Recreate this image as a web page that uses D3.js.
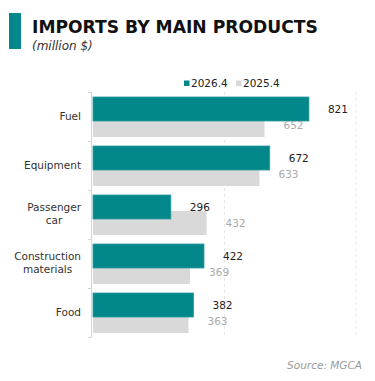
<!DOCTYPE html>
<html>
<head>
<meta charset="utf-8">
<script src="https://cdn.jsdelivr.net/npm/d3@7"></script>
<style>
  html, body { margin: 0; padding: 0; background: #fff; }
  svg { display: block; font-family: "DejaVu Sans", "Noto Sans", sans-serif; }
</style>
</head>
<body>
<svg id="chart" width="375" height="381"></svg>
<script>
// Imports by main products, million $
const categories = ["Fuel", "Equipment", "Passenger car", "Construction materials", "Food"];
const categoryLines = [["Fuel"], ["Equipment"], ["Passenger", "car"], ["Construction", "materials"], ["Food"]];
const values2026 = [821, 672, 296, 422, 382];
const values2025 = [652, 633, 432, 369, 363];
const seriesNames = ["2026.4", "2025.4"];
const gridTicks = [500, 1000];

const teal = "#02878a";
const grey = "#d9d9d9";

const svg = d3.select("#chart");

// Header
svg.append("rect").attr("x", 9).attr("y", 13).attr("width", 12).attr("height", 36).attr("fill", teal);
const title = svg.append("text")
  .attr("x", 32).attr("y", 33)
  .attr("font-size", 17).attr("font-weight", 700).attr("fill", "#111")
  .text("IMPORTS BY MAIN PRODUCTS");
const tw = title.node().getComputedTextLength();
if (tw > 0) title.attr("font-size", Math.min(18, 17 * 286 / tw));
svg.append("text")
  .attr("x", 32).attr("y", 50)
  .attr("font-size", 12).attr("font-style", "italic").attr("fill", "#333")
  .text("(million $)");

// Scales
const x = d3.scaleLinear().domain([0, 1000]).range([93, 356]);
const y = d3.scaleBand().domain(categories).range([92, 337]);

// Dashed grid
svg.append("g").selectAll("line").data(gridTicks).join("line")
  .attr("x1", d => x(d)).attr("x2", d => x(d))
  .attr("y1", 92).attr("y2", 337)
  .attr("stroke", "#e6e6e6").attr("stroke-width", 1)
  .attr("stroke-dasharray", "3,3");

// Left axis line with ticks at band boundaries
const bounds = categories.map(c => y(c)).concat([y(categories[categories.length - 1]) + y.bandwidth()]);
const axis = svg.append("g").attr("stroke", "#d4d4d4").attr("stroke-width", 1);
axis.append("line").attr("x1", 91.5).attr("x2", 91.5).attr("y1", 92).attr("y2", 337);
axis.selectAll("line.tick").data(bounds).join("line").attr("class", "tick")
  .attr("x1", 88).attr("x2", 91.5)
  .attr("y1", d => Math.round(d) + 0.5).attr("y2", d => Math.round(d) + 0.5);

// Bars: previous year sits lower, current year drawn on top
const barH = 24;
svg.append("g").selectAll("rect").data(categories).join("rect")
  .attr("x", x(0)).attr("y", d => y(d) + 21)
  .attr("width", (d, i) => x(values2025[i]) - x(0)).attr("height", barH)
  .attr("fill", grey);
svg.append("g").selectAll("rect").data(categories).join("rect")
  .attr("x", x(0)).attr("y", d => y(d) + 5)
  .attr("width", (d, i) => x(values2026[i]) - x(0)).attr("height", barH)
  .attr("fill", teal).attr("stroke", "#2a9c9c").attr("stroke-width", 0.8);

// Value labels
svg.append("g").selectAll("text").data(categories).join("text")
  .attr("x", (d, i) => x(values2025[i]) + 19).attr("y", d => y(d) + 33.5)
  .attr("dy", "0.35em").attr("font-size", 10.5).attr("fill", "#aaaaaa")
  .text((d, i) => values2025[i]);
svg.append("g").selectAll("text").data(categories).join("text")
  .attr("x", (d, i) => x(values2026[i]) + 19).attr("y", d => y(d) + 17.5)
  .attr("dy", "0.35em").attr("font-size", 10.5).attr("fill", "#222")
  .text((d, i) => values2026[i]);

// Category labels: lines centred on each other, block right-aligned
categories.forEach((c, i) => {
  const lines = categoryLines[i];
  const cy = y(c) + y.bandwidth() / 2 - 0.5;
  const t = svg.append("text").attr("font-size", 10.5).attr("fill", "#333").attr("text-anchor", "middle");
  lines.forEach((ln, k) => {
    t.append("tspan").attr("y", cy + (k - (lines.length - 1) / 2) * 13).attr("dy", "0.35em").text(ln);
  });
  const w = d3.max(t.selectAll("tspan").nodes(), n => n.getComputedTextLength());
  t.selectAll("tspan").attr("x", 81 - w / 2);
});

// Legend
const legend = svg.append("g");
const legendX = [184, 236];
seriesNames.forEach((s, i) => {
  legend.append("rect").attr("x", legendX[i]).attr("y", 80.5).attr("width", 5.5).attr("height", 5.5)
    .attr("fill", i === 0 ? teal : grey);
  legend.append("text").attr("x", legendX[i] + 7).attr("y", 83.5).attr("dy", "0.35em")
    .attr("font-size", 10.5).attr("fill", "#222").text(s);
});

// Source
svg.append("text").attr("x", 362).attr("y", 365).attr("dy", "0.35em")
  .attr("text-anchor", "end").attr("font-size", 10.5).attr("font-style", "italic").attr("fill", "#999")
  .text("Source: MGCA");
</script>
</body>
</html>
